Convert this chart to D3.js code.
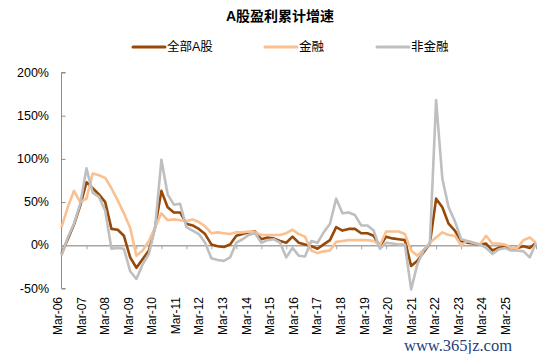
<!DOCTYPE html>
<html>
<head>
<meta charset="utf-8">
<script src="https://cdn.jsdelivr.net/npm/d3@7"></script>
<style>
  body { margin: 0; background: #fff; }
  text { font-family: "Liberation Sans", Arial, "Noto Sans CJK SC", sans-serif; fill: #000; }
  .cjk { font-family: "Liberation Sans", "Noto Sans CJK SC", sans-serif; }
</style>
</head>
<body>
<div id="chart"></div>
<script>
// quarterly data, Mar-06 .. Mar-25 (cumulative yoy growth, %)
const yearLabels = ["Mar-06","Mar-07","Mar-08","Mar-09","Mar-10","Mar-11","Mar-12","Mar-13","Mar-14","Mar-15",
                    "Mar-16","Mar-17","Mar-18","Mar-19","Mar-20","Mar-21","Mar-22","Mar-23","Mar-24","Mar-25"];
const yTicks = [-50, 0, 50, 100, 150, 200];

const allA = [-10, 7, 24, 46, 73, 66, 59, 50, 19, 18, 11, -14, -26, -16, -6, 21, 63, 44, 38, 38,
              25, 23, 19, 13, 1, -1, -2, 1, 11, 13, 15, 16, 7, 9, 8, 5, 3, 10, 3, 1,
              -1, -4, 1, 6, 21, 17, 19, 19, 14, 14, 11, -1, 10, 8, 7, 6, -24, -18, -8, 2,
              54, 44, 25, 17, 5, 3, 2, 1, 2, -6, -3, -2, -4, -3, -1, -3, 3];
const finance = [21, 44, 63, 50, 54, 83, 81, 78, 66, 52, 37, 20, -12, -6, 5, 21, 37, 29, 30, 29,
                 28, 30, 27, 22, 14, 15, 14, 13, 15, 15, 16, 15, 12, 12, 12, 12, 14, 18, 13, 10,
                 -6, -9, -7, -6, 4, 5, 6, 6, 6, 6, 5, 0, 16, 16, 16, 13, -6, -12, -5, 3,
                 9, 15, 12, 11, 0, 5, 3, 1, 11, 2, 2, 1, -3, -3, 6, 9, 3];
const nonFinance = [-12, 9, 25, 48, 89, 61, 56, 40, -4, -3, -4, -30, -39, -22, -10, 21, 99, 59, 47, 48,
                    21, 17, 13, 3, -15, -17, -18, -14, 3, 7, 12, 14, 3, 6, 7, 3, -14, -3, -12, -13,
                    5, 3, 15, 25, 54, 37, 38, 35, 23, 23, 17, -4, 3, 2, 1, 1, -51, -22, -6, 2,
                    168, 77, 44, 28, 7, 5, 3, 1, -3, -10, -5, -3, -6, -6, -7, -14, 3];

const seriesNames = ["全部A股", "金融", "非金融"];
const seriesColors = ["#984807", "#FAC090", "#BFBFBF"];
const seriesData = [allA, finance, nonFinance];

const W = 550, H = 354;
const svg = d3.select("#chart").append("svg")
    .attr("width", W).attr("height", H);

// scales
const xScale = d3.scaleLinear().domain([0, allA.length - 1]).range([61.5, 536]);
const yScale = d3.scaleLinear().domain([-50, 200]).range([288.5, 72.5]);
// category labels in the source are spaced a little tighter than the ticks
const labelScale = d3.scalePoint().domain(yearLabels).range([58, 506]);

// title
svg.append("text")
    .attr("class", "cjk")
    .attr("x", 280).attr("y", 21)
    .attr("text-anchor", "middle")
    .style("font-size", "14px").style("font-weight", "bold")
    .text("A股盈利累计增速");

// legend
const legX = [133, 265, 377];
const legend = svg.selectAll(".legend")
  .data(seriesNames)
  .enter().append("g")
    .attr("class", "legend")
    .attr("transform", (d, i) => "translate(" + legX[i] + ",47)");
legend.append("line")
    .attr("x1", 0).attr("x2", 32).attr("y1", 0).attr("y2", 0)
    .attr("stroke", (d, i) => seriesColors[i])
    .attr("stroke-width", 3).attr("stroke-linecap", "round");
legend.append("text")
    .attr("class", "cjk")
    .attr("x", 34).attr("y", 0)
    .attr("dominant-baseline", "central")
    .style("font-size", "12.5px")
    .text(d => d);

// y axis
const yAxis = svg.append("g")
    .attr("transform", "translate(" + xScale.range()[0] + ",0)")
    .call(d3.axisRight(yScale).tickValues(yTicks).tickSize(4).tickFormat(""));
yAxis.selectAll("path, line").attr("stroke", "#8c8c8c");
yAxis.select(".domain").attr("d", "M4," + yScale(200) + "H0V" + yScale(-50) + "H4");

svg.append("g").selectAll("text")
  .data(yTicks)
  .enter().append("text")
    .attr("x", 49).attr("y", d => yScale(d))
    .attr("text-anchor", "end")
    .attr("dominant-baseline", "central")
    .style("font-size", "12.5px")
    .text(d => d + "%");

// x axis on the zero line
const xAxis = svg.append("g")
    .attr("transform", "translate(0," + yScale(0) + ")")
    .call(d3.axisBottom(xScale).tickValues(d3.range(0, allA.length, 4))
        .tickSize(4).tickSizeOuter(0).tickFormat(""));
xAxis.selectAll("path, line").attr("stroke", "#a6a6a6");
xAxis.select(".domain").attr("stroke-width", 1.5);

svg.append("g").selectAll("text")
  .data(yearLabels)
  .enter().append("text")
    .attr("transform", d => "translate(" + labelScale(d) + ",297) rotate(-90)")
    .attr("text-anchor", "end")
    .attr("dominant-baseline", "central")
    .style("font-size", "12px")
    .text(d => d);

// lines
const line = d3.line()
    .x((d, i) => xScale(i))
    .y(d => yScale(d));

svg.append("g").selectAll("path")
  .data(seriesData)
  .enter().append("path")
    .attr("fill", "none")
    .attr("stroke", (d, i) => seriesColors[i])
    .attr("stroke-width", 2.6)
    .attr("stroke-linejoin", "round")
    .attr("d", line);

// watermark
svg.append("text")
    .attr("x", 512).attr("y", 351)
    .attr("text-anchor", "end")
    .style("font-family", "'Liberation Serif', 'DejaVu Serif', serif")
    .style("font-size", "16.5px")
    .style("fill", "#1f3f7a")
    .text("www.365jz.com");
</script>
</body>
</html>
